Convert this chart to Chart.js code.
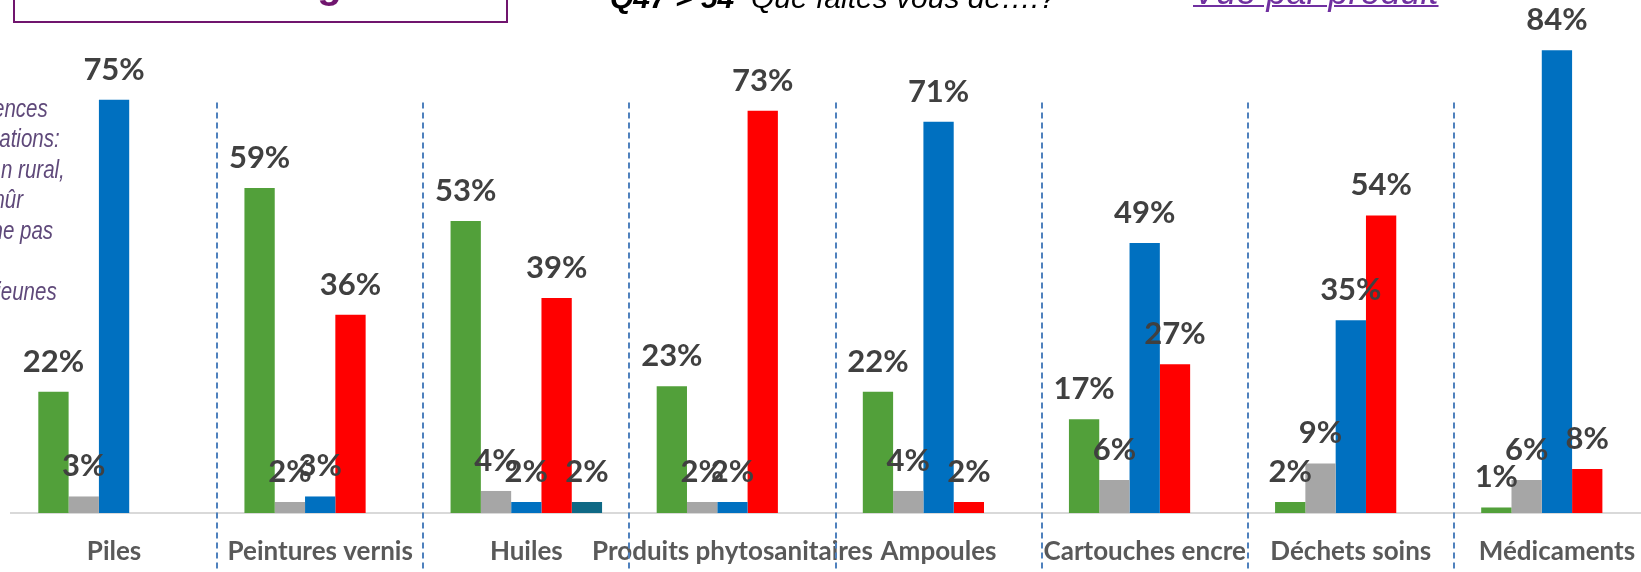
<!DOCTYPE html>
<html>
<head>
<meta charset="utf-8">
<script src="https://cdn.jsdelivr.net/npm/chart.js@4.4.1/dist/chart.umd.min.js"></script>
<style>
html,body{margin:0;padding:0;background:#fff;overflow:hidden;width:1641px;height:572px;position:relative}
#wrap{position:absolute;left:0;top:0;width:1660px;height:572px}
.t{position:absolute;white-space:nowrap}
.side{font-family:"Liberation Sans",Arial,sans-serif;font-style:italic;font-size:25px;line-height:25px;color:#5F497A;transform:scaleX(0.82);transform-origin:right center}
</style>
</head>
<body>
<div id="wrap"><canvas id="c" width="1660" height="572"></canvas></div>

<div class="t" style="left:13px;top:-60px;width:495px;height:83px;box-sizing:border-box;border:2px solid #70156E;overflow:hidden">
  <div class="t" style="left:60px;top:22px;font-family:'Liberation Sans',Arial,sans-serif;font-weight:bold;font-size:40px;line-height:40px;color:#70156E">Les tests en général</div>
</div>
<div class="t" style="left:610px;top:-17px;font-family:'Liberation Sans',Arial,sans-serif;font-style:italic;font-size:30px;line-height:30px;color:#000"><b>Q47 &gt; 54</b>&nbsp; Que faites vous de….?</div>
<div class="t" style="left:1193px;top:-26px;font-family:'Liberation Sans',Arial,sans-serif;font-style:italic;font-size:36px;line-height:36px;color:#7030A0;text-decoration:underline;text-decoration-thickness:2px">Vue par produit</div>

<div class="t side" style="top:96px;right:1593px">ences</div>
<div class="t side" style="top:126px;right:1581px">ations:</div>
<div class="t side" style="top:157px;right:1576px">n rural,</div>
<div class="t side" style="top:187px;right:1618px">mûr</div>
<div class="t side" style="top:218px;right:1588px">ne pas</div>
<div class="t side" style="top:279px;right:1584px">jeunes</div>

<script>
const categories = ["Piles", "Peintures vernis", "Huiles", "Produits phytosanitaires", "Ampoules", "Cartouches encre", "Déchets soins", "Médicaments"];
const valuesGreen = [22, 59, 53, 23, 22, 17, 2, 1];
const valuesGray  = [3, 2, 4, 2, 4, 6, 9, 6];
const valuesBlue  = [75, 3, 2, 2, 71, 49, 35, 84];
const valuesRed   = [null, 36, 39, 73, 2, 27, 54, 8];
const valuesTeal  = [null, null, 2, null, null, null, null, null];

const colorGreen = '#52A03A';
const colorGray  = '#A6A6A6';
const colorBlue  = '#0070C0';
const colorRed   = '#FF0000';
const colorTeal  = '#0F6985';

const separatorPlugin = {
  id: 'separators',
  beforeDatasetsDraw(chart) {
    const xs = chart.scales.x, ys = chart.scales.y, ctx = chart.ctx;
    const top = ys.getPixelForValue(74.5);
    ctx.save();
    ctx.strokeStyle = '#4F81BD';
    ctx.lineWidth = 2;
    ctx.setLineDash([6, 4]);
    for (let i = 0; i < categories.length - 1; i++) {
      const px = Math.round((xs.getPixelForTick(i) + xs.getPixelForTick(i + 1)) / 2);
      ctx.beginPath();
      ctx.moveTo(px, top);
      ctx.lineTo(px, chart.height);
      ctx.stroke();
    }
    ctx.restore();
  }
};

const valueLabelPlugin = {
  id: 'valueLabels',
  afterDatasetsDraw(chart) {
    const ctx = chart.ctx;
    ctx.save();
    ctx.font = 'bold 31px Lato';
    ctx.fillStyle = '#404040';
    ctx.textAlign = 'center';
    ctx.textBaseline = 'alphabetic';
    chart.data.datasets.forEach((ds, di) => {
      const meta = chart.getDatasetMeta(di);
      meta.data.forEach((el, i) => {
        const v = ds.data[i];
        if (v === null || v === undefined) return;
        ctx.fillText(v + '%', el.x, el.y - 20);
      });
    });
    ctx.restore();
  }
};

new Chart(document.getElementById('c'), {
  type: 'bar',
  data: {
    labels: categories,
    datasets: [
      { label: 'A', data: valuesGreen, backgroundColor: colorGreen },
      { label: 'B', data: valuesGray,  backgroundColor: colorGray },
      { label: 'C', data: valuesBlue,  backgroundColor: colorBlue },
      { label: 'D', data: valuesRed,   backgroundColor: colorRed },
      { label: 'E', data: valuesTeal,  backgroundColor: colorTeal }
    ]
  },
  options: {
    responsive: false,
    devicePixelRatio: 1,
    animation: false,
    layout: { padding: { left: 11, right: 0, top: 0, bottom: 0 } },
    datasets: { bar: { categoryPercentage: 0.735, barPercentage: 1.0 } },
    plugins: { legend: { display: false }, tooltip: { enabled: false } },
    scales: {
      y: { display: false, min: 0, max: 93.1 },
      x: {
        grid: { display: false, drawTicks: false },
        border: { display: true, color: '#D9D9D9', width: 2 },
        ticks: {
          autoSkip: false, maxRotation: 0, minRotation: 0,
          color: '#595959',
          font: { family: 'Lato', weight: 'bold', size: 26 },
          padding: 23
        },
        afterFit(scale) { scale.height = 59; }
      }
    }
  },
  plugins: [separatorPlugin, valueLabelPlugin]
});
</script>
</body>
</html>
